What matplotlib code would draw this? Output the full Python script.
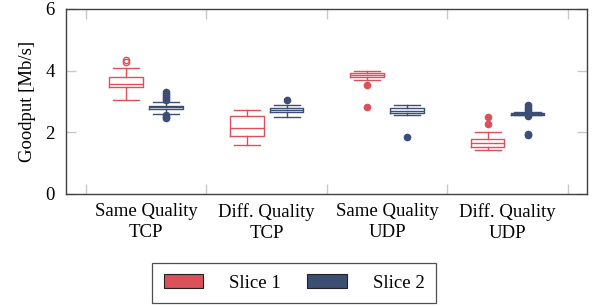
import matplotlib
matplotlib.use("Agg")
import matplotlib.pyplot as plt
from matplotlib.patches import Patch

plt.rcParams['font.family'] = ['Liberation Serif', 'DejaVu Serif']
plt.rcParams['mathtext.fontset'] = 'stix'

categories = ["Same Quality\nTCP", "Diff. Quality\nTCP", "Same Quality\nUDP", "Diff. Quality\nUDP"]
series_names = ["Slice 1", "Slice 2"]

slice1_q1 = [3.46, 1.89, 3.78, 1.53]
slice1_med = [3.56, 2.13, 3.85, 1.65]
slice1_q3 = [3.78, 2.52, 3.92, 1.78]
slice1_whislo = [3.04, 1.60, 3.70, 1.42]
slice1_whishi = [4.08, 2.71, 3.98, 2.00]
slice1_fliers = [[4.27, 4.35], [], [3.53, 2.82], [2.27, 2.51]]

slice2_q1 = [2.75, 2.66, 2.62, 2.57]
slice2_med = [2.81, 2.71, 2.69, 2.61]
slice2_q3 = [2.86, 2.78, 2.79, 2.64]
slice2_whislo = [2.60, 2.50, 2.55, 2.55]
slice2_whishi = [2.98, 2.89, 2.88, 2.66]
slice2_fliers = [[3.05, 3.12, 3.18, 3.25, 3.32, 2.45, 2.50, 2.55], [3.05], [1.86],
                 [2.89, 2.80, 2.72, 2.53, 1.94, 1.90]]

red = "#dc505a"
blue = "#3c4e74"

fig = plt.figure(figsize=(5.94, 3.07), dpi=100)
ax = fig.add_axes([66/594, 1-194/307, (587-66)/594, (194-9)/307])

def stats(q1, med, q3, lo, hi, fl):
    return [dict(q1=a, med=b, q3=c, whislo=d, whishi=e, fliers=f)
            for a, b, c, d, e, f in zip(q1, med, q3, lo, hi, fl)]

s1 = stats(slice1_q1, slice1_med, slice1_q3, slice1_whislo, slice1_whishi, slice1_fliers)
s2 = stats(slice2_q1, slice2_med, slice2_q3, slice2_whislo, slice2_whishi, slice2_fliers)

centers = list(range(1, len(categories) + 1))
off = 0.166
bw = 0.28
cw = 0.216

for st, col, sgn in [(s1, red, -1), (s2, blue, 1)]:
    pos = [c + sgn * off for c in centers]
    ax.bxp(st, positions=pos, widths=bw, capwidths=cw, showfliers=False,
           boxprops=dict(color=col, lw=1.0),
           medianprops=dict(color=col, lw=1.0),
           whiskerprops=dict(color=col, lw=1.0),
           capprops=dict(color=col, lw=1.0),
           manage_ticks=False)
    for i, (p, d) in enumerate(zip(pos, st)):
        if not d['fliers']:
            continue
        hollow = (col == red and i == 0)
        ax.plot([p] * len(d['fliers']), d['fliers'], 'o', ls='none', ms=4.5,
                mfc='none' if hollow else col, mec=col, mew=1.0)

ax.set_xlim(0.334, 4.66)
ax.set_ylim(0, 6)
ax.set_yticks([0, 2, 4, 6])
ax.set_xticks([0.5, 1.5, 2.5, 3.5, 4.5])
ax.set_xticklabels([])
ax.set_xticks(centers, minor=True)
ax.set_xticklabels(categories, minor=True, fontsize=13.5, linespacing=1.3)
ax.tick_params(axis='x', which='minor', length=0, pad=6.5)
ax.tick_params(axis='both', which='major', direction='in', length=7, width=1,
               color='#c8c8c8', top=True, right=True, labelsize=13.5)
ax.tick_params(axis='y', which='major', pad=8)
ax.set_ylabel("Goodput [Mb/s]", fontsize=13.5, labelpad=7)
for s in ax.spines.values():
    s.set_color('#404040')
    s.set_linewidth(1.0)

handles = [Patch(facecolor=red, edgecolor='#222222', lw=0.8),
           Patch(facecolor=blue, edgecolor='#222222', lw=0.8)]
leg = fig.legend(handles, series_names, loc='center', bbox_to_anchor=(294/594, 1-283/307),
                 ncol=2, fontsize=13.5, frameon=True, fancybox=False,
                 handlelength=2.1, handleheight=0.75, handletextpad=1.4,
                 columnspacing=1.4, borderpad=0.6)
leg.get_frame().set_edgecolor('#222222')
leg.get_frame().set_linewidth(0.9)

fig.savefig("out.png", dpi=100)
